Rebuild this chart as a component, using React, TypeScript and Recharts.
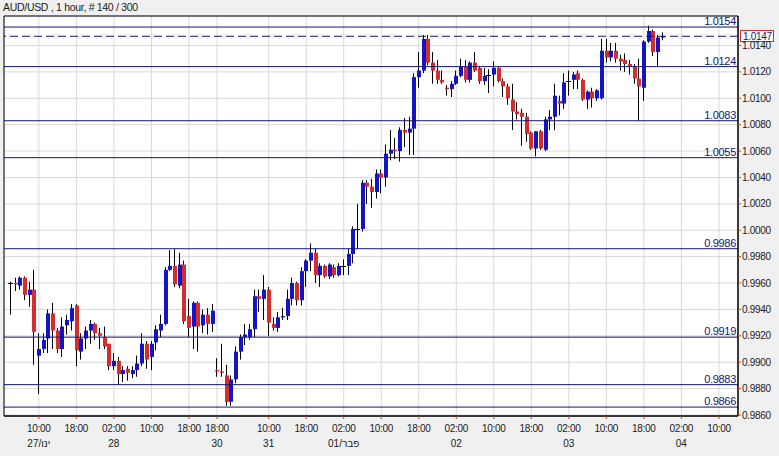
import React from 'react';
import { ComposedChart, Bar, XAxis, YAxis, CartesianGrid, ReferenceLine, ReferenceArea } from 'recharts';

// hourly AUD/USD candles (index = bar number)
const opens = [
  0.9960, 0.9960, 0.9958, 0.9964, 0.9951, 0.9955, 0.9905, 0.9910, 0.9918, 0.9937,
  0.9924, 0.9910, 0.9928, 0.9931, 0.9943, 0.9908, 0.9918, 0.9924, 0.9929, 0.9922,
  0.9919, 0.9914, 0.9897, 0.9901, 0.9891, 0.9895, 0.9891, 0.9894, 0.9899, 0.9914,
  0.9904, 0.9915, 0.9924, 0.9929, 0.9970, 0.9973, 0.9958, 0.9974, 0.9935, 0.9927,
  0.9945, 0.9928, 0.9936, 0.9929, 0.9894, 0.9893, 0.9890, 0.9870, 0.9887, 0.9908,
  0.9919, 0.9919, 0.9925, 0.9950, 0.9948, 0.9955, 0.9929, 0.9926, 0.9934, 0.9935,
  0.9948, 0.9960, 0.9947, 0.9969, 0.9977, 0.9983, 0.9966, 0.9973, 0.9965, 0.9972,
  0.9966, 0.9973, 0.9973, 0.9982, 1.0001, 1.0001, 1.0036, 1.0033, 1.0029, 1.0043,
  1.0040, 1.0058, 1.0061, 1.0060, 1.0076, 1.0074, 1.0077, 1.0116, 1.0121, 1.0145,
  1.0127, 1.0121, 1.0114, 1.0108, 1.0107, 1.0111, 1.0117, 1.0124, 1.0114, 1.0127,
  1.0123, 1.0113, 1.0118, 1.0118, 1.0123, 1.0113, 1.0109, 1.0099, 1.0090, 1.0089,
  1.0086, 1.0074, 1.0062, 1.0075, 1.0061, 1.0084, 1.0086, 1.0098, 1.0096, 1.0113,
  1.0114, 1.0119, 1.0114, 1.0099, 1.0105, 1.0100, 1.0100, 1.0136, 1.0131, 1.0136,
  1.0130, 1.0129, 1.0126, 1.0124, 1.0115, 1.0108, 1.0143, 1.0151, 1.0135, 1.0146,
];
const highs = [
  0.9961, 0.9964, 0.9965, 0.9965, 0.9961, 0.9970, 0.9922, 0.9922, 0.9940, 0.9945,
  0.9926, 0.9934, 0.9936, 0.9944, 0.9944, 0.9922, 0.9927, 0.9932, 0.9930, 0.9926,
  0.9927, 0.9914, 0.9907, 0.9904, 0.9897, 0.9897, 0.9897, 0.9905, 0.9922, 0.9916,
  0.9916, 0.9928, 0.9936, 0.9972, 0.9985, 0.9986, 0.9983, 0.9977, 0.9948, 0.9946,
  0.9946, 0.9940, 0.9941, 0.9944, 0.9903, 0.9914, 0.9898, 0.9890, 0.9912, 0.9921,
  0.9929, 0.9929, 0.9955, 0.9955, 0.9966, 0.9957, 0.9934, 0.9938, 0.9941, 0.9955,
  0.9964, 0.9961, 0.9972, 0.9978, 0.9990, 0.9986, 0.9975, 0.9974, 0.9975, 0.9974,
  0.9975, 0.9978, 0.9986, 1.0003, 1.0020, 1.0038, 1.0038, 1.0039, 1.0046, 1.0046,
  1.0065, 1.0076, 1.0070, 1.0078, 1.0085, 1.0086, 1.0119, 1.0135, 1.0148, 1.0148,
  1.0135, 1.0129, 1.0121, 1.0110, 1.0113, 1.0121, 1.0130, 1.0129, 1.0128, 1.0135,
  1.0124, 1.0123, 1.0122, 1.0128, 1.0124, 1.0115, 1.0111, 1.0111, 1.0097, 1.0092,
  1.0089, 1.0075, 1.0075, 1.0076, 1.0086, 1.0091, 1.0111, 1.0102, 1.0119, 1.0121,
  1.0120, 1.0121, 1.0115, 1.0106, 1.0108, 1.0107, 1.0145, 1.0145, 1.0142, 1.0142,
  1.0133, 1.0134, 1.0129, 1.0126, 1.0130, 1.0144, 1.0155, 1.0152, 1.0148, 1.0150,
];
const lows = [
  0.9936, 0.9954, 0.9955, 0.9947, 0.9942, 0.9898, 0.9876, 0.9907, 0.9907, 0.9910,
  0.9907, 0.9904, 0.9921, 0.9924, 0.9897, 0.9902, 0.9910, 0.9914, 0.9917, 0.9910,
  0.9910, 0.9894, 0.9894, 0.9883, 0.9885, 0.9886, 0.9888, 0.9889, 0.9897, 0.9895,
  0.9894, 0.9909, 0.9919, 0.9928, 0.9969, 0.9957, 0.9956, 0.9929, 0.9919, 0.9910,
  0.9908, 0.9922, 0.9921, 0.9923, 0.9889, 0.9889, 0.9867, 0.9867, 0.9884, 0.9902,
  0.9913, 0.9917, 0.9919, 0.9938, 0.9932, 0.9920, 0.9924, 0.9923, 0.9932, 0.9932,
  0.9943, 0.9943, 0.9943, 0.9957, 0.9969, 0.9960, 0.9957, 0.9964, 0.9963, 0.9964,
  0.9965, 0.9966, 0.9966, 0.9975, 0.9986, 0.9999, 1.0020, 1.0017, 1.0024, 1.0028,
  1.0033, 1.0053, 1.0054, 1.0052, 1.0063, 1.0057, 1.0057, 1.0108, 1.0119, 1.0125,
  1.0111, 1.0111, 1.0111, 1.0102, 1.0101, 1.0110, 1.0116, 1.0112, 1.0112, 1.0120,
  1.0111, 1.0110, 1.0104, 1.0109, 1.0112, 1.0101, 1.0095, 1.0076, 1.0084, 1.0064,
  1.0067, 1.0061, 1.0056, 1.0061, 1.0060, 1.0076, 1.0076, 1.0087, 1.0092, 1.0102,
  1.0107, 1.0107, 1.0098, 1.0092, 1.0093, 1.0098, 1.0099, 1.0127, 1.0128, 1.0127,
  1.0121, 1.0120, 1.0118, 1.0111, 1.0083, 1.0098, 1.0142, 1.0132, 1.0124, 1.0144,
];
const closes = [
  0.9960, 0.9959, 0.9964, 0.9951, 0.9955, 0.9923, 0.9910, 0.9917, 0.9937, 0.9924,
  0.9910, 0.9927, 0.9932, 0.9941, 0.9909, 0.9918, 0.9924, 0.9929, 0.9922, 0.9920,
  0.9912, 0.9897, 0.9901, 0.9891, 0.9894, 0.9892, 0.9894, 0.9899, 0.9914, 0.9902,
  0.9914, 0.9925, 0.9929, 0.9970, 0.9973, 0.9959, 0.9974, 0.9931, 0.9926, 0.9945,
  0.9927, 0.9936, 0.9929, 0.9939, 0.9893, 0.9892, 0.9870, 0.9887, 0.9908, 0.9919,
  0.9921, 0.9925, 0.9950, 0.9948, 0.9955, 0.9930, 0.9926, 0.9934, 0.9935, 0.9948,
  0.9960, 0.9947, 0.9969, 0.9977, 0.9983, 0.9966, 0.9973, 0.9965, 0.9974, 0.9966,
  0.9973, 0.9973, 0.9982, 1.0001, 1.0001, 1.0036, 1.0033, 1.0029, 1.0043, 1.0040,
  1.0058, 1.0061, 1.0060, 1.0076, 1.0074, 1.0077, 1.0116, 1.0121, 1.0145, 1.0127,
  1.0121, 1.0114, 1.0112, 1.0107, 1.0111, 1.0117, 1.0124, 1.0114, 1.0127, 1.0121,
  1.0113, 1.0117, 1.0118, 1.0123, 1.0113, 1.0109, 1.0100, 1.0090, 1.0088, 1.0086,
  1.0073, 1.0062, 1.0075, 1.0062, 1.0084, 1.0086, 1.0102, 1.0096, 1.0112, 1.0113,
  1.0118, 1.0114, 1.0099, 1.0105, 1.0100, 1.0106, 1.0136, 1.0131, 1.0136, 1.0130,
  1.0128, 1.0126, 1.0124, 1.0115, 1.0109, 1.0143, 1.0151, 1.0135, 1.0146, 1.0147,
];

// x axis: bar index of each labelled tick, hour label, day label
const tickIdx = [6, 14, 22, 30, 38, 44, 55, 63, 71, 79, 87, 95, 103, 111, 119, 127, 135, 143, 151];
const tickTime = ['10:00', '18:00', '02:00', '10:00', '18:00', '18:00', '10:00', '18:00', '02:00', '10:00',
  '18:00', '02:00', '10:00', '18:00', '02:00', '10:00', '18:00', '02:00', '10:00'];
const tickDate = ['27/ינו', '', '28', '', '', '30', '31', '', '01/פבר', '', '', '02', '', '', '03', '', '', '04', ''];

const priceTicks = [0.986, 0.988, 0.99, 0.992, 0.994, 0.996, 0.998, 1.0, 1.002, 1.004, 1.006, 1.008, 1.01, 1.012, 1.014];
const levels = [1.0154, 1.0124, 1.0083, 1.0055, 0.9986, 0.9919, 0.9883, 0.9866];
const lastPrice = 1.0147;

const xDomain: [number, number] = [-1.43, 155.07];
const yDomain: [number, number] = [0.985924, 1.016236];

const FONT = '"Liberation Sans", Arial, sans-serif';
const NAVY = '#14146e';
const BLUE = '#1414c4';
const RED = '#d62c2c';

const data = opens.map((o, i) => ({ i, open: o, high: highs[i], low: lows[i], close: closes[i] }));

const Candle = (props: any) => {
  const { x, y, width, height, payload } = props;
  if (x == null || y == null) return null;
  const { open, close, high, low } = payload;
  const top = Math.min(y, y + height);
  const h = Math.abs(height);
  const span = high - low;
  const toY = (v: number) => (span === 0 ? top : top + ((high - v) / span) * h);
  const col = Math.floor(x + width / 2);
  const cx = col + 0.5;
  if (open === close) {
    const yy = Math.round(toY(open)) + 0.5;
    return (
      <g>
        <line x1={cx} x2={cx} y1={top} y2={top + h} stroke="#000" />
        <line x1={col - 2} x2={col + 3} y1={yy} y2={yy} stroke="#000" />
      </g>
    );
  }
  const bTop = toY(Math.max(open, close));
  const bBot = toY(Math.min(open, close));
  return (
    <g>
      <line x1={cx} x2={cx} y1={top} y2={top + h} stroke="#000" />
      <rect x={col - 1} y={bTop} width={4} height={Math.max(1, bBot - bTop)} fill={close > open ? BLUE : RED} />
    </g>
  );
};

const XTick = (props: any) => {
  const { x, y, payload } = props;
  const k = tickIdx.indexOf(payload.value);
  return (
    <g fontFamily={FONT} fontSize={10} fill="#1a1a1a">
      <text x={x} y={y + 11} textAnchor="middle" letterSpacing={-0.3}>{tickTime[k]}</text>
      {tickDate[k] ? <text x={x} y={y + 26} textAnchor="middle">{tickDate[k]}</text> : null}
    </g>
  );
};

const levelLabel = (value: number) => (props: any) => {
  const vb = props.viewBox;
  return (
    <text x={vb.x + vb.width - 2} y={vb.y - 2} textAnchor="end" fill={NAVY} fontSize={11} fontFamily={FONT} letterSpacing={-0.3}>
      {value.toFixed(4)}
    </text>
  );
};

const priceBox = (props: any) => {
  const vb = props.viewBox;
  const bx = vb.x + vb.width + 2;
  return (
    <g>
      <rect x={bx + 0.5} y={Math.round(vb.y) - 5.5} width={33} height={11} fill="#fff" stroke="#d03030" />
      <text x={bx + 3} y={vb.y + 4} fill={NAVY} fontSize={10} fontFamily={FONT} letterSpacing={-0.3}>
        {lastPrice.toFixed(4)}
      </text>
    </g>
  );
};

export default function App() {
  return (
    <div style={{ position: 'absolute', left: 0, top: 0, width: 779, height: 456, background: '#f0f0f0' }}>
      <div style={{ position: 'absolute', left: 3, top: 1, fontFamily: FONT, fontSize: 10.5, color: '#1a1a1a', letterSpacing: -0.3, lineHeight: '13px' }}>
        AUD/USD , 1 hour, # 140 / 300
      </div>
      <ComposedChart width={779} height={456} data={data} margin={{ top: 16, right: 0, bottom: 0, left: 4 }}>
        <CartesianGrid stroke="#d8d8d8" fill="#ffffff" />
        <XAxis
          dataKey="i"
          type="number"
          domain={xDomain}
          allowDataOverflow
          ticks={tickIdx}
          interval={0}
          height={40}
          axisLine={{ stroke: '#000' }}
          tickLine={{ stroke: '#a0522d' }}
          tickSize={3}
          tick={<XTick />}
        />
        <YAxis
          orientation="right"
          type="number"
          domain={yDomain}
          allowDataOverflow
          ticks={priceTicks}
          interval={0}
          width={41}
          axisLine={{ stroke: '#000' }}
          tickLine={{ stroke: '#a0522d' }}
          tickSize={3}
          tickMargin={1}
          tickFormatter={(v: number) => v.toFixed(4)}
          tick={{ fill: '#1a1a1a', fontSize: 10, fontFamily: FONT, letterSpacing: -0.3 }}
        />
        {levels.map((lv) => (
          <ReferenceLine key={lv} y={lv} stroke={NAVY} strokeWidth={1} label={levelLabel(lv)} />
        ))}
        <ReferenceLine y={lastPrice} stroke={NAVY} strokeDasharray="8 4" label={priceBox} />
        <Bar
          dataKey={(d: any) => [d.low, d.high]}
          barSize={4}
          shape={<Candle />}
          isAnimationActive={false}
        />
        <ReferenceArea
          x1={xDomain[0]}
          x2={xDomain[1]}
          y1={yDomain[0]}
          y2={yDomain[1]}
          fill="none"
          stroke="#000"
          ifOverflow="visible"
        />
      </ComposedChart>
    </div>
  );
}
